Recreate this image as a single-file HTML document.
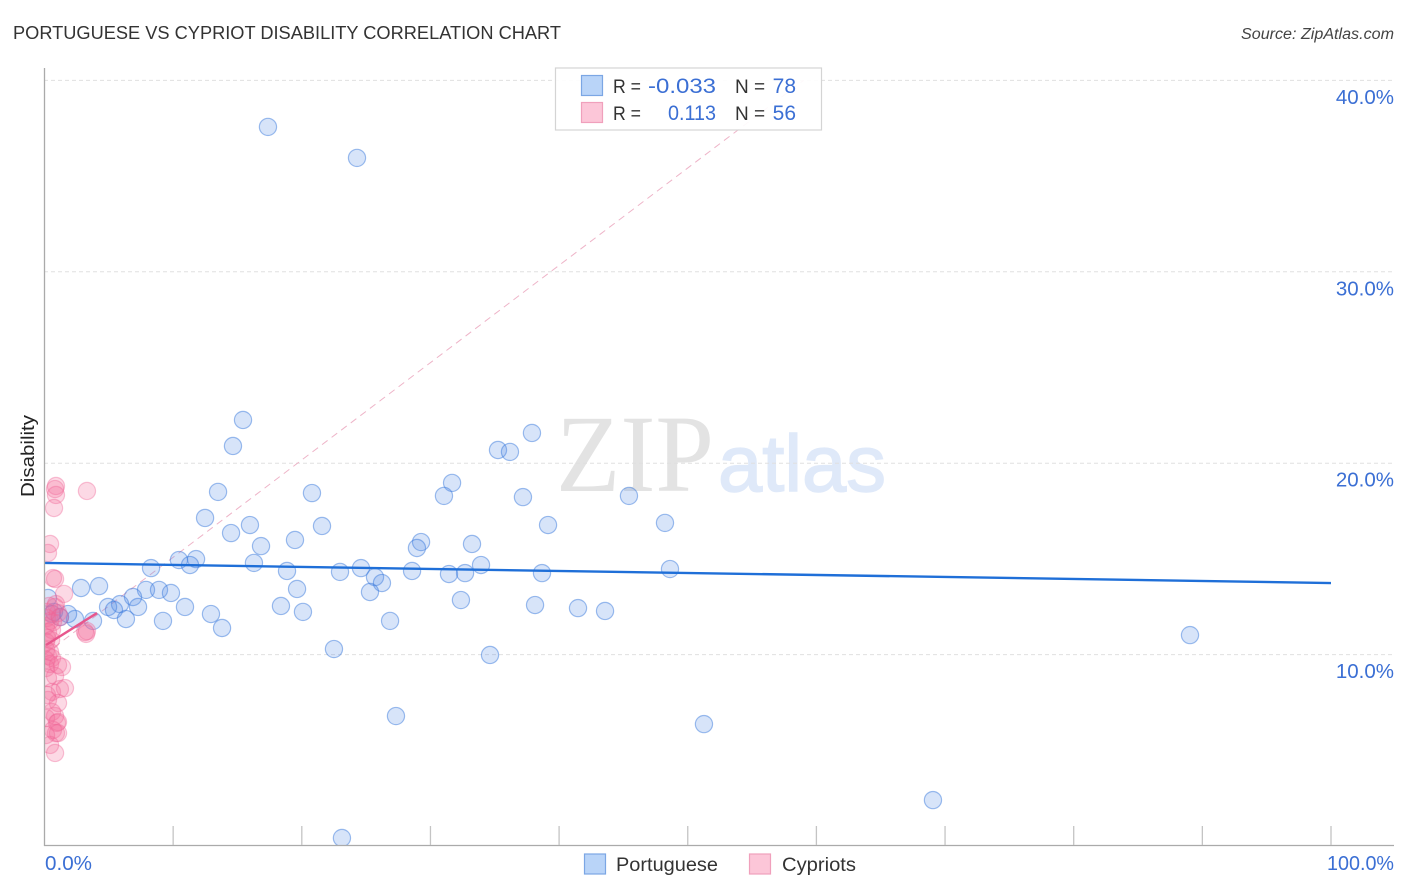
<!DOCTYPE html>
<html lang="en">
<head>
<meta charset="utf-8">
<title>Portuguese vs Cypriot Disability Correlation Chart</title>
<style>
html,body{margin:0;padding:0;background:#fff;width:1406px;height:892px;overflow:hidden}
svg{display:block}
text{font-family:"Liberation Sans",sans-serif}
</style>
</head>
<body>
<svg id="chart" width="1406" height="892" viewBox="0 0 1406 892" xmlns="http://www.w3.org/2000/svg">
  <defs>
    <clipPath id="plot-clip"><rect x="45" y="60" width="1349" height="785"/></clipPath>
  </defs>
  <text x="13" y="39" font-size="18.5" fill="#333" textLength="548" lengthAdjust="spacingAndGlyphs">PORTUGUESE VS CYPRIOT DISABILITY CORRELATION CHART</text>
  <text x="1394" y="39" font-size="15.5" font-style="italic" fill="#444" text-anchor="end" textLength="153" lengthAdjust="spacingAndGlyphs">Source: ZipAtlas.com</text>
  <text transform="translate(34,456) rotate(-90)" font-size="18.5" fill="#222" text-anchor="middle" textLength="82" lengthAdjust="spacingAndGlyphs">Disability</text>

  <text x="556" y="491" font-size="110" fill="#e3e3e3" style="font-family:'Liberation Serif',serif" textLength="158" lengthAdjust="spacingAndGlyphs">ZIP</text>
  <text x="718" y="491" font-size="80" fill="#dfe9f9" stroke="#dfe9f9" stroke-width="1.5" textLength="168" lengthAdjust="spacingAndGlyphs">atlas</text>

  <g id="grid"></g>
  <g id="marks" clip-path="url(#plot-clip)"></g>

  <line x1="44.5" y1="68" x2="44.5" y2="846" stroke="#aaa" stroke-width="1.3"/>
  <line x1="44" y1="845.5" x2="1394" y2="845.5" stroke="#aaa" stroke-width="1.3"/>
  <g id="xticks"></g>
  <g id="ylabels"></g>

  <text x="45" y="870" font-size="20" fill="#3b6fd4" textLength="47" lengthAdjust="spacingAndGlyphs">0.0%</text>
  <text x="1327" y="870" font-size="20" fill="#3b6fd4" textLength="67" lengthAdjust="spacingAndGlyphs">100.0%</text>

  <g>
    <rect x="555.5" y="68" width="266" height="62" fill="#fff" fill-opacity="0.92" stroke="#d4d4d4" stroke-width="1.2"/>
    <rect x="581.5" y="75.5" width="21" height="20" fill="#b9d4f8" stroke="#7ba6e4" stroke-width="1.2"/>
    <rect x="581.5" y="102.5" width="21" height="20" fill="#fcc6d8" stroke="#f0a0bc" stroke-width="1.2"/>
    <text x="613" y="93" font-size="19" fill="#333" textLength="28" lengthAdjust="spacingAndGlyphs">R =</text>
    <text x="648" y="93" font-size="21" fill="#3b6fd4" textLength="68" lengthAdjust="spacingAndGlyphs">-0.033</text>
    <text x="735" y="93" font-size="19" fill="#333">N =</text>
    <text x="796" y="93" font-size="21" fill="#3b6fd4" text-anchor="end">78</text>
    <text x="613" y="120" font-size="19" fill="#333" textLength="28" lengthAdjust="spacingAndGlyphs">R =</text>
    <text x="668" y="120" font-size="21" fill="#3b6fd4" textLength="48" lengthAdjust="spacingAndGlyphs">0.113</text>
    <text x="735" y="120" font-size="19" fill="#333">N =</text>
    <text x="796" y="120" font-size="21" fill="#3b6fd4" text-anchor="end">56</text>
  </g>

  <g>
    <rect x="584.5" y="854" width="21" height="20" fill="#b9d4f8" stroke="#7ba6e4" stroke-width="1.2"/>
    <text x="616" y="871" font-size="19.5" fill="#333" textLength="102" lengthAdjust="spacingAndGlyphs">Portuguese</text>
    <rect x="749.5" y="854" width="21" height="20" fill="#fcc6d8" stroke="#f0a0bc" stroke-width="1.2"/>
    <text x="782" y="871" font-size="19.5" fill="#333" textLength="74" lengthAdjust="spacingAndGlyphs">Cypriots</text>
  </g>
</svg>
<script>
const yTickValues = [10, 20, 30, 40];
const yTickLabels = ["10.0%", "20.0%", "30.0%", "40.0%"];
const xTickValues = [10, 20, 30, 40, 50, 60, 70, 80, 90, 100];

const portugueseX = [17.37,24.29,15.43,14.65,37.89,35.25,36.18,31.68,13.49,20.79,31.05,37.19,45.43,12.48,15.97,21.57,39.14,48.23,14.50,19.47,29.27,28.95,33.23,16.83,10.45,11.78,11.31,16.28,8.28,18.85,22.97,24.60,28.57,25.69,31.44,32.69,33.93,38.67,48.62,26.23,7.89,8.90,9.83,6.88,5.87,4.94,5.40,7.27,4.24,2.84,19.63,25.30,32.37,38.13,18.38,10.92,12.94,20.09,41.47,43.57,26.86,9.21,6.33,13.80,3.77,2.37,1.83,1.20,0.58,0.27,0.74,22.50,34.63,89.04,27.32,51.26,69.06,23.12];
const portugueseY = [37.57,35.95,22.26,20.90,21.58,20.69,20.59,18.97,18.50,18.44,18.29,18.23,18.29,17.14,16.77,16.72,16.77,16.88,16.35,15.99,15.88,15.57,15.78,15.67,14.94,14.99,14.68,14.79,14.52,14.37,14.32,14.52,14.37,14.05,14.21,14.26,14.68,14.26,14.47,13.74,13.38,13.38,13.22,13.01,12.64,12.49,12.33,12.49,13.58,13.48,13.43,13.27,12.85,12.59,12.54,12.49,12.12,12.23,12.43,12.28,11.76,11.76,11.86,11.39,11.76,11.86,12.12,11.96,12.12,12.96,12.23,10.29,9.98,11.02,6.79,6.37,2.40,0.42];

const cypriotsX = [3.30,0.89,0.82,0.89,0.74,0.43,0.27,0.66,0.82,1.52,0.89,0.82,1.05,1.20,0.19,0.43,0.66,0.12,0.58,0.27,0.19,3.30,3.23,3.15,0.12,0.12,0.43,0.27,0.58,0.12,0.43,0.12,1.05,1.36,0.82,0.27,1.20,1.59,0.58,1.05,0.27,0.58,0.82,0.12,1.05,0.97,0.66,0.89,1.05,0.43,0.82,0.12,0.19,0.51,0.19,0.35];
const cypriotsY = [18.55,18.81,18.65,18.34,17.66,15.78,15.31,14.00,13.95,13.17,12.64,12.49,12.17,11.96,11.91,11.76,11.70,11.49,11.29,11.18,10.87,11.23,11.08,11.18,10.66,10.24,10.14,9.93,9.82,9.72,9.51,9.30,9.46,9.35,8.88,8.78,8.20,8.25,8.05,7.47,7.63,7.00,6.79,6.69,6.48,6.43,6.06,5.90,5.90,5.28,4.86,5.80,7.89,10.76,12.23,12.54];

const portugueseTrendX = [0, 100];
const portugueseTrendY = [14.79, 13.74];
const cypriotsTrendX = [0.12, 4.08];
const cypriotsTrendY = [10.5, 12.17];
const referenceLineX = [0, 59];
const referenceLineY = [10, 40];

const SVG_NS = "http://www.w3.org/2000/svg";
function xScale(v) { return 44.5 + v * 12.865; }
function yScale(v) { return 846 - v * 19.14; }

const grid = document.getElementById("grid");
const marks = document.getElementById("marks");
const xticks = document.getElementById("xticks");
const ylabels = document.getElementById("ylabels");

yTickValues.forEach(function (v, i) {
  const g = document.createElementNS(SVG_NS, "line");
  
  
  g.setAttribute("x1", 44);
  g.setAttribute("x2", 1394);
  g.setAttribute("y1", yScale(v));
  g.setAttribute("y2", yScale(v));
  g.setAttribute("stroke", "#e0e0e0");
  g.setAttribute("stroke-width", "1");
  g.setAttribute("stroke-dasharray", "4 3");
  grid.appendChild(g);

  const t = document.createElementNS(SVG_NS, "text");
  
  
  t.setAttribute("x", 1394);
  t.setAttribute("y", yScale(v) + 23.5);
  t.setAttribute("font-size", "20.5");
  t.setAttribute("fill", "#3b6fd4");
  t.setAttribute("text-anchor", "end");
  t.textContent = yTickLabels[i];
  ylabels.appendChild(t);
});

xTickValues.forEach(function (v) {
  const l = document.createElementNS(SVG_NS, "line");
  
  
  l.setAttribute("x1", xScale(v));
  l.setAttribute("x2", xScale(v));
  l.setAttribute("y1", 826);
  l.setAttribute("y2", 845);
  l.setAttribute("stroke", "#c4c4c4");
  l.setAttribute("stroke-width", "1.3");
  xticks.appendChild(l);
});

const ref = document.createElementNS(SVG_NS, "line");


ref.setAttribute("x1", xScale(referenceLineX[0]));
ref.setAttribute("y1", yScale(referenceLineY[0]));
ref.setAttribute("x2", xScale(referenceLineX[1]));
ref.setAttribute("y2", yScale(referenceLineY[1]));
ref.setAttribute("stroke", "#eeb4c8");
ref.setAttribute("stroke-width", "1");
ref.setAttribute("stroke-dasharray", "7 5");
marks.appendChild(ref);

portugueseX.forEach(function (x, i) {
  const c = document.createElementNS(SVG_NS, "circle");
  
  
  c.setAttribute("cx", xScale(x));
  c.setAttribute("cy", yScale(portugueseY[i]));
  c.setAttribute("r", 8.6);
  c.setAttribute("fill", "rgba(80,140,230,0.23)");
  c.setAttribute("stroke", "rgba(55,120,220,0.48)");
  c.setAttribute("stroke-width", "1.2");
  marks.appendChild(c);
});

cypriotsX.forEach(function (x, i) {
  const c = document.createElementNS(SVG_NS, "circle");
  
  
  c.setAttribute("cx", xScale(x));
  c.setAttribute("cy", yScale(cypriotsY[i]));
  c.setAttribute("r", 8.6);
  c.setAttribute("fill", "rgba(245,110,155,0.26)");
  c.setAttribute("stroke", "rgba(240,100,150,0.38)");
  c.setAttribute("stroke-width", "1.2");
  marks.appendChild(c);
});

const blueTrend = document.createElementNS(SVG_NS, "line");


blueTrend.setAttribute("x1", xScale(portugueseTrendX[0]));
blueTrend.setAttribute("y1", yScale(portugueseTrendY[0]));
blueTrend.setAttribute("x2", xScale(portugueseTrendX[1]));
blueTrend.setAttribute("y2", yScale(portugueseTrendY[1]));
blueTrend.setAttribute("stroke", "#1f6fd8");
blueTrend.setAttribute("stroke-width", "2.4");
marks.appendChild(blueTrend);

const pinkTrend = document.createElementNS(SVG_NS, "line");


pinkTrend.setAttribute("x1", xScale(cypriotsTrendX[0]));
pinkTrend.setAttribute("y1", yScale(cypriotsTrendY[0]));
pinkTrend.setAttribute("x2", xScale(cypriotsTrendX[1]));
pinkTrend.setAttribute("y2", yScale(cypriotsTrendY[1]));
pinkTrend.setAttribute("stroke", "#e8568c");
pinkTrend.setAttribute("stroke-width", "2.4");
marks.appendChild(pinkTrend);
</script>
</body>
</html>
